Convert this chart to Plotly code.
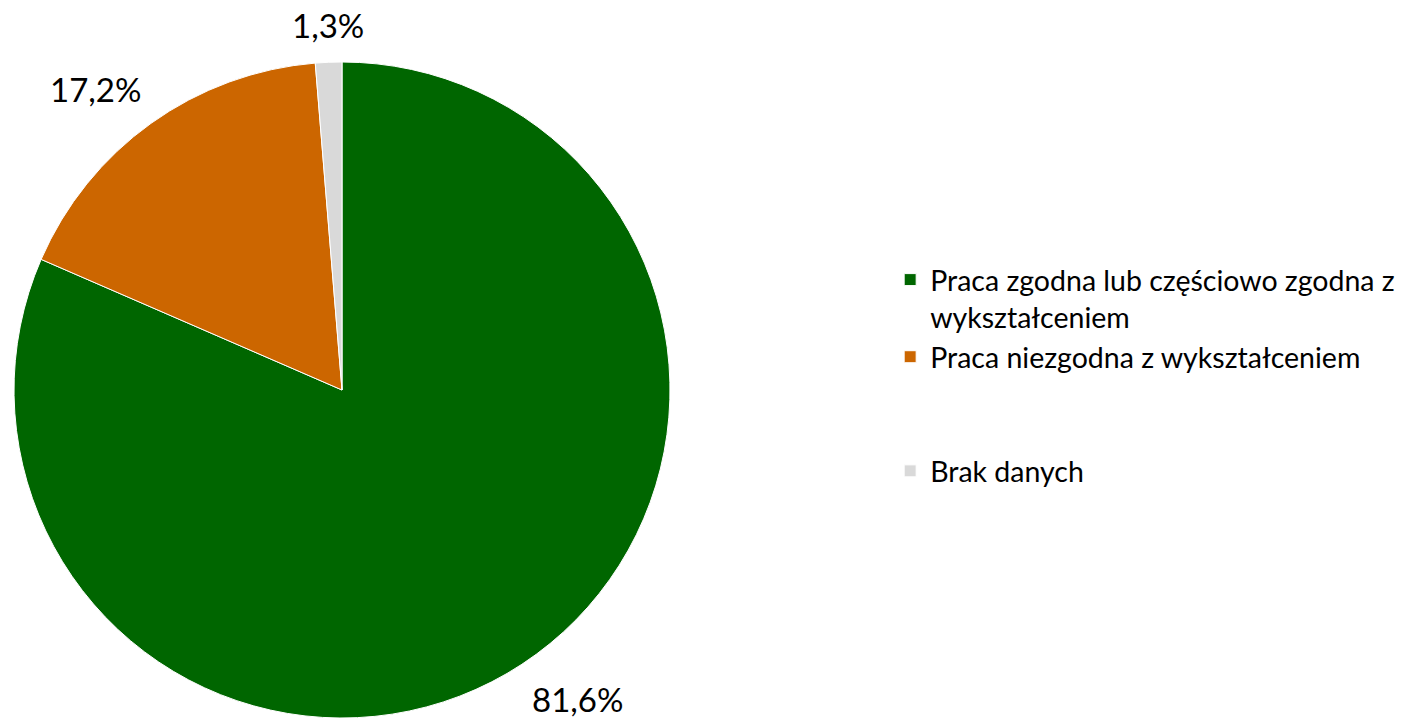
import math
import plotly.graph_objects as go

labels = ["Praca zgodna lub częściowo zgodna z<br>wykształceniem",
          "Praca niezgodna z wykształceniem<br> <br> ",
          "Brak danych"]
values = [81.6, 17.2, 1.3]
colors = ["#006600", "#CC6600", "#D9D9D9"]

text = [f"{v:.1f}%".replace(".", ",") for v in values]

W, H = 1416, 721
dom_x = [6 / W, 662 / W]
dom_y = [11 / H, 667 / H]

fig = go.Figure(go.Pie(
    labels=labels, values=values, textinfo="none",
    sort=False, direction="clockwise", rotation=0,
    marker=dict(colors=colors, line=dict(color="white", width=1)),
    domain=dict(x=dom_x, y=dom_y),
    hoverinfo="skip",
))

# outside data labels, placed from the slice mid-angles
cx = (dom_x[0] + dom_x[1]) / 2 * W
cy = H - (dom_y[0] + dom_y[1]) / 2 * H
R = min((dom_x[1] - dom_x[0]) * W, (dom_y[1] - dom_y[0]) * H) / 2
total = sum(values)
cum = 0.0
for v, t in zip(values, text):
    mid = (cum + v / 2) / total * 2 * math.pi
    cum += v
    s, c = math.sin(mid), math.cos(mid)
    px = cx + (R + 16) * s
    py = cy - (R + 16) * c
    xa = "left" if s > 0.3 else ("right" if s < -0.3 else "center")
    ya = "bottom" if c > 0.3 else ("top" if c < -0.3 else "middle")
    fig.add_annotation(x=px / W, y=1 - py / H, xref="paper", yref="paper",
                       text=t, showarrow=False, xanchor=xa, yanchor=ya,
                       borderpad=0,
                       font=dict(size=33, color="black", family="Lato"))

fig.update_layout(
    width=W, height=H,
    margin=dict(l=0, r=0, t=0, b=0),
    paper_bgcolor="white",
    font=dict(family="Lato", size=28.5, color="black"),
    showlegend=True,
    legend=dict(x=0.623, y=0.658, xanchor="left", yanchor="top",
                valign="top", font=dict(size=28.5), tracegroupgap=0),
)
fig.write_html("out.html")
